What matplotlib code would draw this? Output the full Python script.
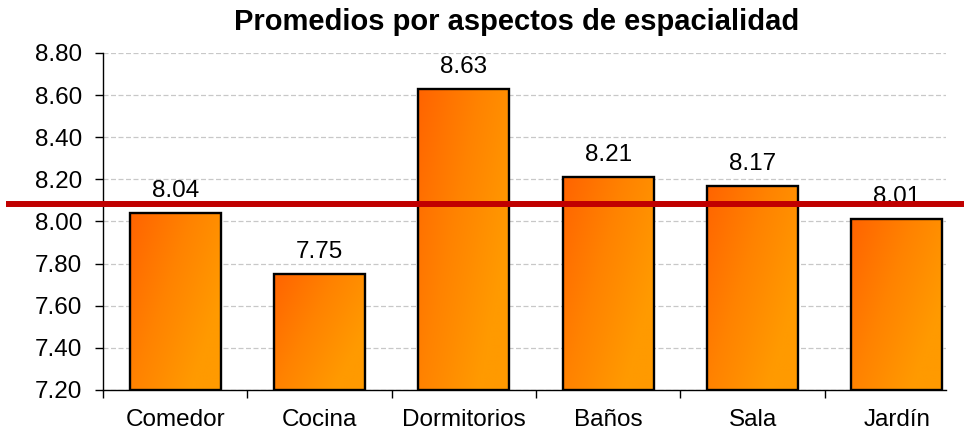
import numpy as np
import matplotlib
matplotlib.use("Agg")
import matplotlib.pyplot as plt
from matplotlib.colors import LinearSegmentedColormap
from matplotlib.transforms import blended_transform_factory

categories = ["Comedor", "Cocina", "Dormitorios", "Baños", "Sala", "Jardín"]
values = [8.04, 7.75, 8.63, 8.21, 8.17, 8.01]
reference_level = 8.085
y_ticks = [7.20, 7.40, 7.60, 7.80, 8.00, 8.20, 8.40, 8.60, 8.80]

plt.rcParams["font.family"] = ["Liberation Sans", "DejaVu Sans"]

fig = plt.figure(figsize=(9.64, 4.30), dpi=100)
ax = fig.add_axes([103 / 964, 1 - 390 / 430, (946 - 103) / 964, (390 - 53) / 430])

ymin, ymax = 7.20, 8.80
x = np.arange(len(categories))
bar_w = 0.63
bars = ax.bar(x, [v - ymin for v in values], bottom=ymin, width=bar_w,
              color="none", edgecolor="black", linewidth=1.7, zorder=3)

# orange gradient fill, darker toward upper left
cmap = LinearSegmentedColormap.from_list("orange", ["#FF6400", "#FF8200", "#FF9A00"])
gx, gy = np.meshgrid(np.linspace(0, 1, 64), np.linspace(0, 1, 64))
for b in bars:
    x0, y0 = b.get_x(), b.get_y()
    w, h = b.get_width(), b.get_height()
    grad = np.clip(0.75 * gx + 0.5 * gy, 0, 1)
    im = ax.imshow(grad, cmap=cmap, vmin=0, vmax=1, origin="upper",
                   extent=[x0, x0 + w, y0, y0 + h], aspect="auto",
                   interpolation="bilinear", zorder=2)
    im.set_clip_path(b)

ax.set_aspect("auto")
ax.set_xlim(-0.5, 5.34)
ax.set_ylim(ymin, ymax)

for xi, v in zip(x, values):
    ax.annotate(f"{v:.2f}", (xi, v), xytext=(0, 8), textcoords="offset points",
                ha="center", va="bottom", fontsize=17.5, color="black", zorder=5)

# grid and axes
ax.set_yticks(y_ticks)
ax.set_yticklabels([f"{t:.2f}" for t in y_ticks], fontsize=17.5)
ax.yaxis.grid(True, linestyle=(0, (4, 2)), color="#C8C8C8", linewidth=0.9, zorder=0)
ax.set_axisbelow(True)

ax.set_xticks(x)
ax.set_xticklabels(categories, fontsize=17.5)
ax.set_xticks(np.arange(-0.5, 5.5, 1), minor=True)
ax.tick_params(axis="x", which="major", length=0, pad=14)
ax.tick_params(axis="x", which="minor", length=6, width=1, direction="out")
ax.tick_params(axis="y", length=6, width=1, direction="out", pad=9)

for s in ["top", "right"]:
    ax.spines[s].set_visible(False)
for s in ["left", "bottom"]:
    ax.spines[s].set_linewidth(1)
    ax.spines[s].set_color("black")

# reference line across the whole figure width
trans = blended_transform_factory(fig.transFigure, ax.transData)
ax.plot([6 / 964, 1.0], [reference_level, reference_level], color="#C00000",
        linewidth=4.3, transform=trans, clip_on=False, zorder=6,
        solid_capstyle="butt")

fig.text(517 / 964, 1 - 22 / 430, "Promedios por aspectos de espacialidad",
         ha="center", va="center", fontsize=21, fontweight="bold")

fig.savefig("out.png", dpi=100)
